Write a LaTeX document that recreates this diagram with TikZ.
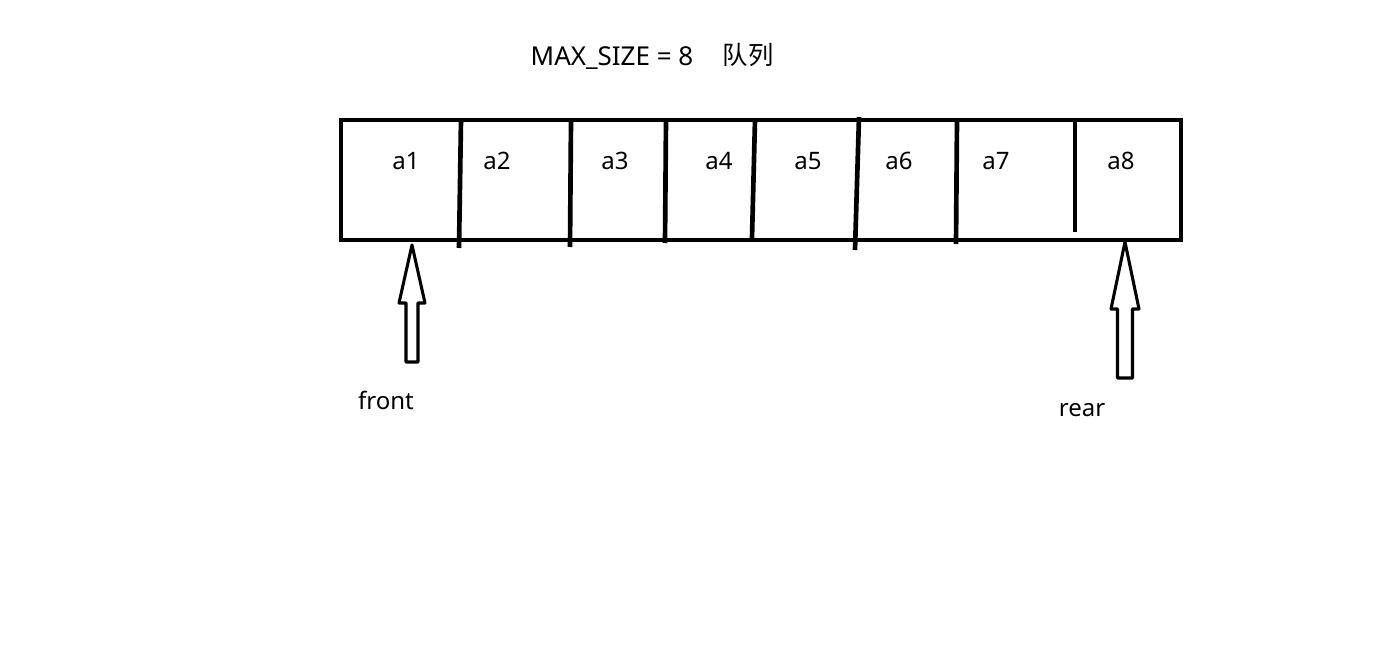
\documentclass[tikz,border=0pt]{standalone}
\usepackage{fontspec}
\setmainfont{Noto Sans}
\newfontfamily\cjk{Noto Sans CJK SC}
\begin{document}
\begin{tikzpicture}[
    x=0.75pt, y=-0.75pt,
    cell/.style={line width=3.5pt},
    lbl/.style={font=\fontsize{18}{21}\selectfont, inner sep=0pt, anchor=base},
    ptr/.style={line width=2.3pt, line join=round}
]
    \useasboundingbox (0,0) rectangle (1397,660);

    % title
    \node[lbl, font=\fontsize{19.5}{22}\selectfont] (title) at (612,66) {MAX\_SIZE = 8};
    \node[lbl, font=\cjk\fontsize{19}{22}\selectfont] (kind) at (748,65) {队列};

    % queue cells
    \draw[cell] (341,120) rectangle (1181,240);
    \draw[cell] (461,120) -- (459,248);
    \draw[cell] (571,120) -- (570,247);
    \draw[cell] (666,120) -- (665,243);
    \draw[cell] (755,120) -- (752,238);
    \draw[cell] (859,117) -- (855,250);
    \draw[cell] (957,120) -- (956,244);
    \draw[cell] (1075,120) -- (1075,232);

    \node[lbl] (a1) at (406,170) {a1};
    \node[lbl] (a2) at (497,170) {a2};
    \node[lbl] (a3) at (615,170) {a3};
    \node[lbl] (a4) at (719,170) {a4};
    \node[lbl] (a5) at (808,170) {a5};
    \node[lbl] (a6) at (899,170) {a6};
    \node[lbl] (a7) at (996,170) {a7};
    \node[lbl] (a8) at (1121,170) {a8};

    % pointers
    \coordinate (fronttip) at (412,245);
    \coordinate (reartip) at (1125,242);
    \draw[ptr] (fronttip) -- ++(13,58) -- ++(-7,0) -- ++(0,59) -- ++(-12,0)
        -- ++(0,-59) -- ++(-7,0) -- cycle;
    \draw[ptr] (reartip) -- ++(14,67) -- ++(-6.5,0) -- ++(0,69) -- ++(-15,0)
        -- ++(0,-69) -- ++(-6.5,0) -- cycle;

    \node[lbl] (front) at (386,409) {front};
    \node[lbl] (rear) at (1082,416) {rear};
\end{tikzpicture}
\end{document}
